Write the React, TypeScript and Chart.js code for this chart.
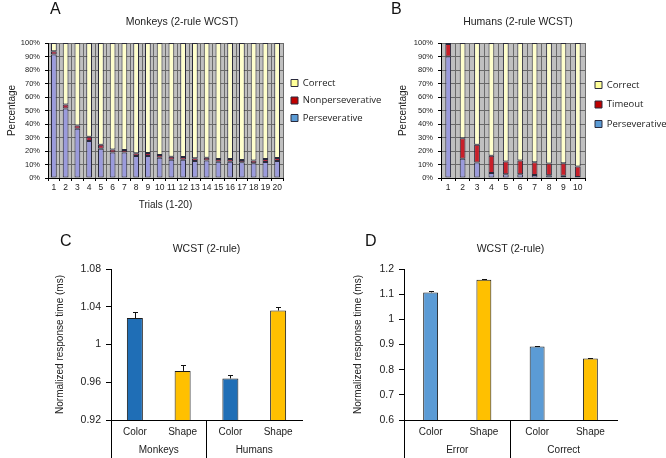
import React, { useEffect, useRef } from 'react';
import { Chart, registerables } from 'chart.js';

Chart.register(...registerables);

// ---------- Data ----------
const trialsMonkeys = ['1','2','3','4','5','6','7','8','9','10','11','12','13','14','15','16','17','18','19','20'];
const monkeyPerseverative = [91.5, 51.5, 36.5, 27.5, 21.7, 18.8, 18.8, 16.3, 16.3, 15.0, 13.6, 13.6, 12.6, 13.0, 12.0, 12.0, 11.6, 11.0, 11.8, 12.6];
const monkeyNonperseverative = [2.3, 3.0, 2.3, 3.1, 3.0, 2.4, 1.9, 2.0, 2.2, 2.0, 2.2, 2.0, 2.0, 2.0, 2.0, 2.0, 1.7, 2.0, 2.2, 2.2];
const monkeyCorrect = [6.2, 45.5, 61.2, 69.4, 75.3, 78.8, 79.3, 81.7, 81.5, 83.0, 84.2, 84.4, 85.4, 85.0, 86.0, 86.0, 86.7, 87.0, 86.0, 85.2];

const trialsHumans = ['1','2','3','4','5','6','7','8','9','10'];
const humanPerseverative = [90.0, 14.2, 11.4, 3.7, 2.7, 2.7, 2.2, 2.0, 1.7, 0.7];
const humanTimeout = [9.3, 15.2, 13.2, 12.7, 9.5, 10.2, 9.5, 8.7, 9.3, 7.8];
const humanCorrect = [0.7, 70.6, 75.4, 83.6, 87.8, 87.1, 88.3, 89.3, 89.0, 91.5];

const rtConditionsC = ['Color', 'Shape', 'Color', 'Shape'];
const rtGroupsC = ['Monkeys', 'Humans'];
const rtValuesC = [1.028, 0.972, 0.964, 1.036];
const rtErrorsC = [0.006, 0.006, 0.004, 0.004];

const rtConditionsD = ['Color', 'Shape', 'Color', 'Shape'];
const rtGroupsD = ['Error', 'Correct'];
const rtValuesD = [1.107, 1.157, 0.892, 0.844];
const rtErrorsD = [0.005, 0.005, 0.003, 0.003];

// ---------- Styling ----------
const FONT = "'Liberation Sans', Arial, sans-serif";
const TEXT = '#222';
const PLOT_BG = '#c0c0c0';
const GRID = '#6a6a6a';
const SEG_BORDER = '#2a2a3c';
const PERSEV = '#9b9bdc';
const CORRECT = '#ffffcc';
const NONPERS = '#b3233c';
const TIMEOUT = '#c8202a';
const BLUE_C = '#1f6eb6';
const BLUE_D = '#5b9bd5';
const YELLOW = '#ffc000';

Chart.defaults.font.family = FONT;
Chart.defaults.color = TEXT;

const plotBackground = (color: string) => ({
  id: 'plotBackground',
  beforeDraw(chart: any) {
    const { ctx, chartArea: a } = chart;
    ctx.save();
    ctx.fillStyle = color;
    ctx.fillRect(a.left, a.top, a.right - a.left, a.bottom - a.top);
    ctx.restore();
  },
});

const errorBars = (values: number[], errors: number[]) => ({
  id: 'errorBars',
  afterDatasetsDraw(chart: any) {
    const { ctx } = chart;
    const meta = chart.getDatasetMeta(0);
    const y = chart.scales.y;
    ctx.save();
    ctx.strokeStyle = '#111';
    ctx.lineWidth = 1;
    meta.data.forEach((el: any, i: number) => {
      const top = Math.round(y.getPixelForValue(values[i] + errors[i])) + 0.5;
      const x = Math.round(el.x) + 0.5;
      ctx.beginPath();
      ctx.moveTo(x, el.y);
      ctx.lineTo(x, top);
      ctx.moveTo(x - 2.5, top);
      ctx.lineTo(x + 2.5, top);
      ctx.stroke();
    });
    ctx.restore();
  },
});

const legendLabels = (chart: any) => {
  const items = (Chart.defaults.plugins.legend.labels as any).generateLabels(chart);
  return items.map((it: any) => {
    if (it.text === 'Perseverative') return { ...it, fillStyle: '#5b9bd5' };
    if (it.text === 'Correct') return { ...it, fillStyle: '#ffff99' };
    if (it.text === 'Nonperseverative' || it.text === 'Timeout') return { ...it, fillStyle: '#c00000' };
    return it;
  });
};

function stackedConfig(opts: {
  labels: string[];
  series: { label: string; data: number[]; color: string }[];
  title: string;
  xTitle?: string;
  barPct: number;
  yWidth: number;
  yTitlePad: number;
  legendPad: number;
  legendWidth: number;
}): any {
  return {
    type: 'bar',
    data: {
      labels: opts.labels,
      datasets: opts.series.map((s) => ({
        label: s.label,
        data: s.data,
        backgroundColor: s.color,
        borderColor: SEG_BORDER,
        borderWidth: 1,
        borderSkipped: false,
      })),
    },
    options: {
      responsive: false,
      animation: false,
      layout: { padding: 0 },
      datasets: { bar: { barPercentage: opts.barPct, categoryPercentage: 1 } },
      scales: {
        x: {
          stacked: true,
          offset: true,
          grid: { offset: true, color: GRID, lineWidth: 1, drawTicks: true, tickLength: 3, tickColor: '#000' },
          border: { display: true, color: '#000' },
          ticks: { font: { size: 8.5 }, padding: 2, color: TEXT, maxRotation: 0, autoSkip: false },
          title: opts.xTitle
            ? { display: true, text: opts.xTitle, font: { size: 10 }, padding: { top: 0, bottom: 3 }, color: TEXT }
            : { display: false },
          afterFit: (s: any) => { s.height = 36; },
        },
        y: {
          stacked: true,
          min: 0,
          max: 100,
          ticks: { stepSize: 10, callback: (v: any) => v + '%', font: { size: 7.5 }, padding: 5, color: TEXT },
          grid: { color: GRID, lineWidth: 1, drawTicks: true, tickLength: 3, tickColor: '#000' },
          border: { display: true, color: '#000' },
          title: { display: true, text: 'Percentage', font: { size: 10 }, padding: { top: opts.yTitlePad, bottom: 0 }, color: TEXT },
          afterFit: (s: any) => { s.width = opts.yWidth; },
        },
      },
      plugins: {
        title: {
          display: true,
          text: opts.title,
          font: { size: 10.5, weight: 'normal' },
          color: TEXT,
          padding: { top: 15.7, bottom: 14.7 },
        },
        legend: {
          position: 'right',
          align: 'start',
          fullSize: false,
          reverse: true,
          maxWidth: opts.legendWidth,
          title: { display: true, text: ' ', font: { size: 10 }, padding: { top: 15.25, bottom: 0 } },
          labels: {
            boxWidth: 7,
            boxHeight: 7,
            padding: opts.legendPad,
            font: { family: "'Open Sans', sans-serif", size: 9.5 },
            color: TEXT,
            generateLabels: legendLabels,
          },
        },
        tooltip: { enabled: false },
      },
    },
    plugins: [plotBackground(PLOT_BG)],
  };
}

function rtConfig(opts: {
  labels: string[];
  groups: string[];
  values: number[];
  errors: number[];
  colors: string[];
  min: number;
  max: number;
  step: number;
  decimals: number;
  barPct: number;
  yWidth: number;
  yTitlePad: number;
  padRight: number;
}): any {
  const f = Math.pow(10, opts.decimals);
  return {
    type: 'bar',
    data: {
      labels: opts.labels,
      datasets: [
        {
          label: 'Normalized response time',
          data: opts.values,
          backgroundColor: opts.colors,
          borderColor: '#1c1c1c',
          borderWidth: 1,
          borderSkipped: false,
        },
      ],
    },
    options: {
      responsive: false,
      animation: false,
      layout: { padding: { left: 0, right: opts.padRight, top: 0, bottom: 0 } },
      datasets: { bar: { barPercentage: opts.barPct, categoryPercentage: 1 } },
      scales: {
        x: {
          weight: 0,
          offset: true,
          grid: {
            offset: true,
            drawOnChartArea: false,
            drawTicks: true,
            tickLength: 40,
            lineWidth: 1,
            tickColor: (c: any) => (c.index % 2 === 0 ? '#000' : 'rgba(0,0,0,0)'),
          },
          border: { display: true, color: '#000' },
          ticks: { font: { size: 10 }, padding: -34, color: TEXT, maxRotation: 0, autoSkip: false },
          afterFit: (s: any) => { s.height = 18; },
        },
        x2: {
          type: 'category',
          labels: opts.groups,
          position: 'bottom',
          weight: 1,
          offset: true,
          grid: { display: false, drawTicks: false, drawOnChartArea: false },
          border: { display: false },
          ticks: { font: { size: 10 }, padding: 6, color: TEXT, maxRotation: 0 },
          afterFit: (s: any) => { s.height = 20; },
        },
        y: {
          min: opts.min,
          max: opts.max,
          ticks: {
            stepSize: opts.step,
            callback: (v: any) => String(Math.round(Number(v) * f) / f),
            font: { size: 10.5 },
            padding: 5,
            color: TEXT,
          },
          grid: { drawOnChartArea: false, drawTicks: true, tickLength: 5, tickColor: '#000' },
          border: { display: true, color: '#000' },
          title: {
            display: true,
            text: 'Normalized response time (ms)',
            font: { size: 10 },
            padding: { top: opts.yTitlePad, bottom: 0 },
            color: TEXT,
          },
          afterFit: (s: any) => { s.width = opts.yWidth; },
        },
      },
      plugins: {
        title: {
          display: true,
          fullSize: false,
          text: 'WCST (2-rule)',
          font: { size: 10.5, weight: 'normal' },
          color: TEXT,
          padding: { top: 12.7, bottom: 13.7 },
        },
        legend: { display: false },
        tooltip: { enabled: false },
      },
    },
    plugins: [errorBars(opts.values, opts.errors)],
  };
}

const letterStyle = (left: number, top: number): React.CSSProperties => ({
  position: 'absolute',
  left,
  top,
  fontFamily: FONT,
  fontSize: 16,
  lineHeight: '16px',
  color: '#111',
});

export default function App() {
  const refA = useRef<HTMLCanvasElement>(null);
  const refB = useRef<HTMLCanvasElement>(null);
  const refC = useRef<HTMLCanvasElement>(null);
  const refD = useRef<HTMLCanvasElement>(null);

  useEffect(() => {
    const charts: Chart[] = [];
    charts.push(
      new Chart(
        refA.current!,
        stackedConfig({
          labels: trialsMonkeys,
          series: [
            { label: 'Perseverative', data: monkeyPerseverative, color: PERSEV },
            { label: 'Nonperseverative', data: monkeyNonperseverative, color: NONPERS },
            { label: 'Correct', data: monkeyCorrect, color: CORRECT },
          ],
          title: 'Monkeys (2-rule WCST)',
          xTitle: 'Trials (1-20)',
          barPct: 0.49,
          yWidth: 65,
          yTitlePad: 23,
          legendPad: 8,
          legendWidth: 98,
        })
      )
    );
    charts.push(
      new Chart(
        refB.current!,
        stackedConfig({
          labels: trialsHumans,
          series: [
            { label: 'Perseverative', data: humanPerseverative, color: PERSEV },
            { label: 'Timeout', data: humanTimeout, color: TIMEOUT },
            { label: 'Correct', data: humanCorrect, color: CORRECT },
          ],
          title: 'Humans (2-rule WCST)',
          barPct: 0.4,
          yWidth: 80,
          yTitlePad: 36,
          legendPad: 10,
          legendWidth: 90,
        })
      )
    );
    charts.push(
      new Chart(
        refC.current!,
        rtConfig({
          labels: rtConditionsC,
          groups: rtGroupsC,
          values: rtValuesC,
          errors: rtErrorsC,
          colors: [BLUE_C, YELLOW, BLUE_C, YELLOW],
          min: 0.92,
          max: 1.08,
          step: 0.04,
          decimals: 2,
          barPct: 0.335,
          yWidth: 111,
          yTitlePad: 54,
          padRight: 38,
        })
      )
    );
    charts.push(
      new Chart(
        refD.current!,
        rtConfig({
          labels: rtConditionsD,
          groups: rtGroupsD,
          values: rtValuesD,
          errors: rtErrorsD,
          colors: [BLUE_D, YELLOW, BLUE_D, YELLOW],
          min: 0.6,
          max: 1.2,
          step: 0.1,
          decimals: 1,
          barPct: 0.28,
          yWidth: 74,
          yTitlePad: 22,
          padRight: 49,
        })
      )
    );
    return () => charts.forEach((c) => c.destroy());
  }, []);

  return (
    <div
      style={{
        position: 'fixed',
        left: 0,
        top: 0,
        width: 666,
        height: 458,
        overflow: 'hidden',
        background: '#fff',
      }}
    >
      <canvas ref={refA} width={398} height={214} style={{ position: 'absolute', left: -17, top: 0, width: 398, height: 214 }} />
      <canvas ref={refB} width={314} height={214} style={{ position: 'absolute', left: 361, top: 0, width: 314, height: 214 }} />
      <canvas ref={refC} width={340} height={228} style={{ position: 'absolute', left: 0, top: 230, width: 340, height: 228 }} />
      <canvas ref={refD} width={336} height={228} style={{ position: 'absolute', left: 330, top: 230, width: 336, height: 228 }} />
      <div style={letterStyle(50, 1)}>A</div>
      <div style={letterStyle(391, 1)}>B</div>
      <div style={letterStyle(60, 233)}>C</div>
      <div style={letterStyle(365, 233)}>D</div>
    </div>
  );
}
